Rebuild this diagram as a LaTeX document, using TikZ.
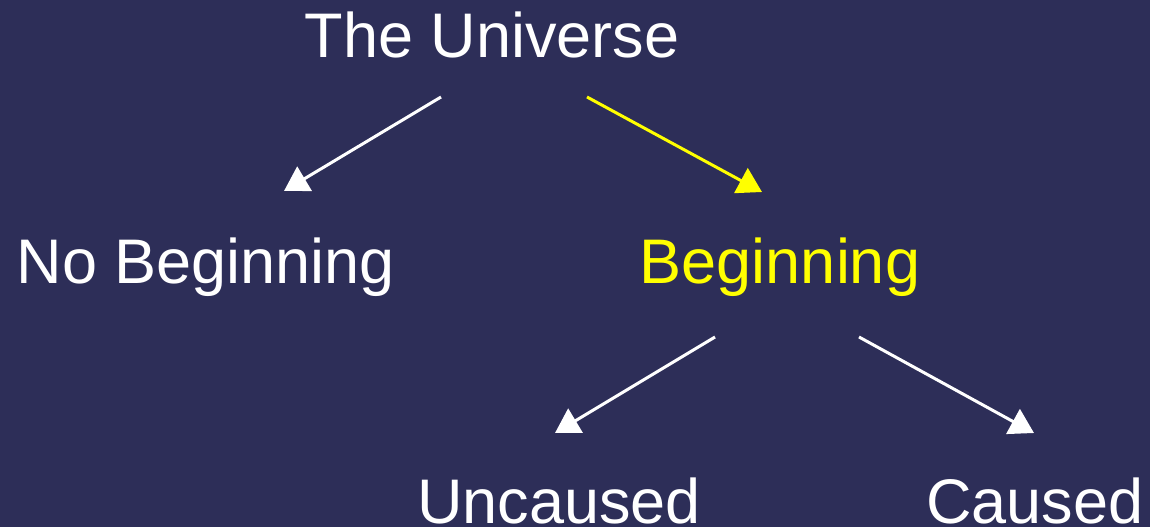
\documentclass[tikz,border=0pt]{standalone}
\usepackage{fontspec}
\setmainfont{Liberation Sans}
\usetikzlibrary{arrows.meta}
\definecolor{bg}{RGB}{45,46,88}
\definecolor{hl}{RGB}{255,255,0}
\begin{document}
\begin{tikzpicture}[x=1pt,y=-1pt,
  lbl/.style={anchor=base,inner sep=0pt,font=\fontsize{63}{70}\selectfont,text=white},
  conn/.style={line width=3pt,draw=white,-{Triangle[length=24pt,width=28pt]}}]
\fill[bg] (0,0) rectangle (1150,527);
\useasboundingbox (0,0) rectangle (1150,527);
\node[lbl] (uni) at (492,58) {The Universe};
\node[lbl] (nob) at (206,283) {No Beginning};
\node[lbl,text=hl] (beg) at (780,283) {Beginning};
\node[lbl] (unc) at (559,523) {Uncaused};
\node[lbl] (cau) at (1035,523) {Caused};
\coordinate (a1s) at (441,97);
\coordinate (a1e) at (284,191);
\coordinate (a2s) at (587,97);
\coordinate (a2e) at (762,192);
\coordinate (a3s) at (715,337);
\coordinate (a3e) at (555,433);
\coordinate (a4s) at (859,337);
\coordinate (a4e) at (1034,433);
\draw[conn] (a1s) -- (a1e);
\draw[conn,draw=hl,fill=hl] (a2s) -- (a2e);
\draw[conn] (a3s) -- (a3e);
\draw[conn] (a4s) -- (a4e);
\end{tikzpicture}
\end{document}
